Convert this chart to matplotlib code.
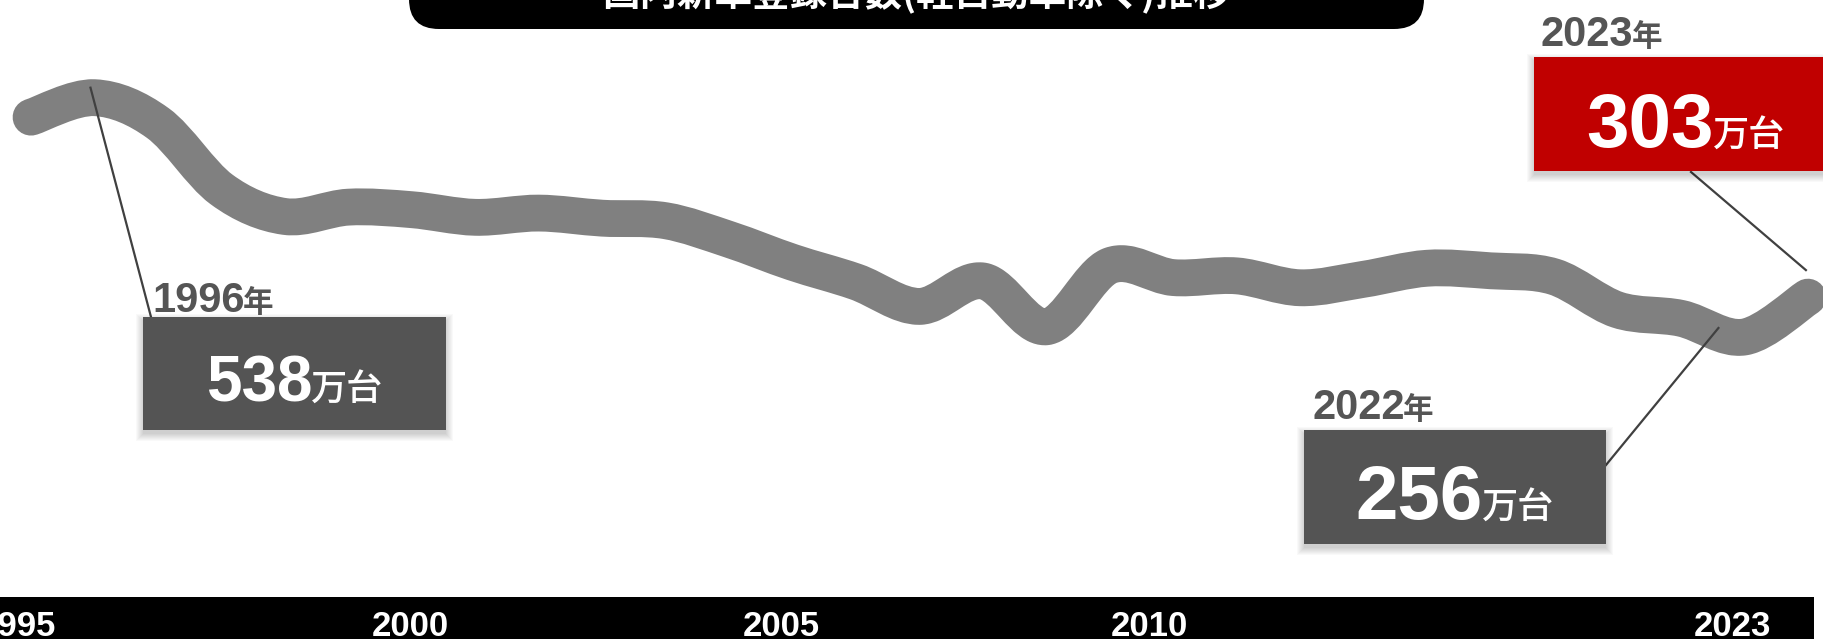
import numpy as np
import matplotlib.pyplot as plt
from matplotlib.path import Path
from matplotlib.patches import PathPatch, Rectangle, FancyBboxPatch

plt.rcParams['font.family'] = ['Liberation Sans', 'Noto Sans CJK JP', 'DejaVu Sans']

# New car registrations excluding kei cars, in 10,000 units
years = list(range(1995, 2024))
units = [515, 538, 508, 430, 398, 409, 406, 397, 402, 396,
         393, 371, 344, 321, 292, 322, 268, 340, 326, 328,
         314, 324, 337, 334, 327, 288, 278, 256, 303]
tick_labels = ['1995', '2000', '2005', '2010', '2023']
callout_years = [1996, 2022, 2023]
title = '国内新車登録台数(軽自動車除く)推移'

W, H = 1823, 639
fig = plt.figure(figsize=(W / 100, H / 100), dpi=100)

# data axes covering the whole canvas
ax = fig.add_axes([0, 0, 1, 1])
ax.set_xlim(1994.511, 2023.238)
ax.set_ylim(-99.9, 653.1)
ax.axis('off')

# overlay in pixel units (y grows downward) for boxes and labels
lay = fig.add_axes([0, 0, 1, 1])
lay.set_xlim(0, W)
lay.set_ylim(H, 0)
lay.axis('off')
lay.patch.set_alpha(0)

# smoothed thick line (Catmull-Rom turned into cubic Bezier segments)
pts = np.column_stack([years, units]).astype(float)
ext = np.vstack([pts[0], pts, pts[-1]])
verts = [pts[0]]
codes = [Path.MOVETO]
for i in range(len(pts) - 1):
    p0, p1, p2, p3 = ext[i], ext[i + 1], ext[i + 2], ext[i + 3]
    verts += [p1 + (p2 - p0) / 6, p2 - (p3 - p1) / 6, p2]
    codes += [Path.CURVE4] * 3
ax.add_patch(PathPatch(Path(verts, codes), fill=False, ec='#808080', lw=26.5,
                       capstyle='round', joinstyle='round'))


def to_px(x, y):
    dx, dy = ax.transData.transform((x, y))
    return dx, H - dy


def shadow_box(x0, y0, x1, y1, color):
    for k in range(8, 0, -1):
        lay.add_patch(Rectangle((x0 - k + 1, y0 - k + 5), (x1 - x0) + 2 * k - 2,
                                (y1 - y0) + 2 * k - 2, fc='black', ec='none',
                                alpha=0.025, zorder=2))
    lay.add_patch(Rectangle((x0, y0), x1 - x0, y1 - y0, fc=color, ec='none', zorder=3))


renderer = fig.canvas.get_renderer()


def text_width(t):
    bb = t.get_window_extent(renderer=renderer)
    return bb.width


def number_label(cx, base, value, size):
    num = lay.text(0, base, str(value), color='white', fontsize=size,
                   fontweight='bold', family='Liberation Sans',
                   ha='left', va='baseline', zorder=4)
    unit = lay.text(0, base, '万台', color='white', fontsize=26,
                    fontweight='medium', family='Noto Sans CJK JP',
                    ha='left', va='baseline', zorder=4)
    wn, wu = text_width(num), text_width(unit)
    x0 = cx - (wn + wu) / 2
    num.set_x(x0)
    unit.set_x(x0 + wn - 1)


def year_label(x, base, year):
    t = lay.text(x, base, str(year), color='#555555', fontsize=30,
                 fontweight='bold', family='Liberation Sans',
                 ha='left', va='baseline', zorder=4)
    lay.text(x + text_width(t) - 2, base, '年', color='#555555', fontsize=22,
             fontweight='bold', family='Noto Sans CJK JP',
             ha='left', va='baseline', zorder=4)


# callout boxes: (box x0, y0, x1, y1), colour, year label anchor, leader start, leader end offset
callouts = [
    ((143, 317, 446, 430), '#545454', (152, 312), (151, 317), (-4, -10)),
    ((1304, 430, 1606, 544), '#545454', (1312, 419), (1606, 465), (-26, -9)),
    ((1534, 57, W + 10, 171), '#c00000', (1541, 46), (1691, 172), (-2, -27)),
]
number_base = [401, 519, 147]
number_cx = [295, 1455, 1686]
number_size = [46, 55, 55]

for yr, (box, col, ypos, lstart, loff), nb, ncx, ns in zip(
        callout_years, callouts, number_base, number_cx, number_size):
    val = units[years.index(yr)]
    px, py = to_px(yr, val)
    lay.plot([lstart[0], px + loff[0]], [lstart[1], py + loff[1]],
             color='#404040', lw=1.6, zorder=1.5)
    shadow_box(*box, col)
    year_label(ypos[0], ypos[1], yr)
    number_label(ncx, nb, val, ns)

# title pill, partly cut by the top edge
lay.add_patch(FancyBboxPatch((409, -70), 1015, 99,
                             boxstyle='round,pad=0,rounding_size=30',
                             fc='black', ec='none', zorder=3))
lay.text(916, 6, title, color='white', fontsize=27, fontweight='bold',
         family='Noto Sans CJK JP', ha='center', va='baseline', zorder=4)

# bottom year strip
lay.add_patch(Rectangle((0, 596.5), 1814, 50, fc='black', ec='none', zorder=3))
tick_x = [17, 410, 781, 1149, 1732]
for x, lab in zip(tick_x, tick_labels):
    lay.text(x, 636, lab, color='white', fontsize=25, fontweight='bold',
             family=['Liberation Sans Narrow', 'Liberation Sans'],
             ha='center', va='baseline', zorder=4)

fig.savefig('out.png', dpi=100)
